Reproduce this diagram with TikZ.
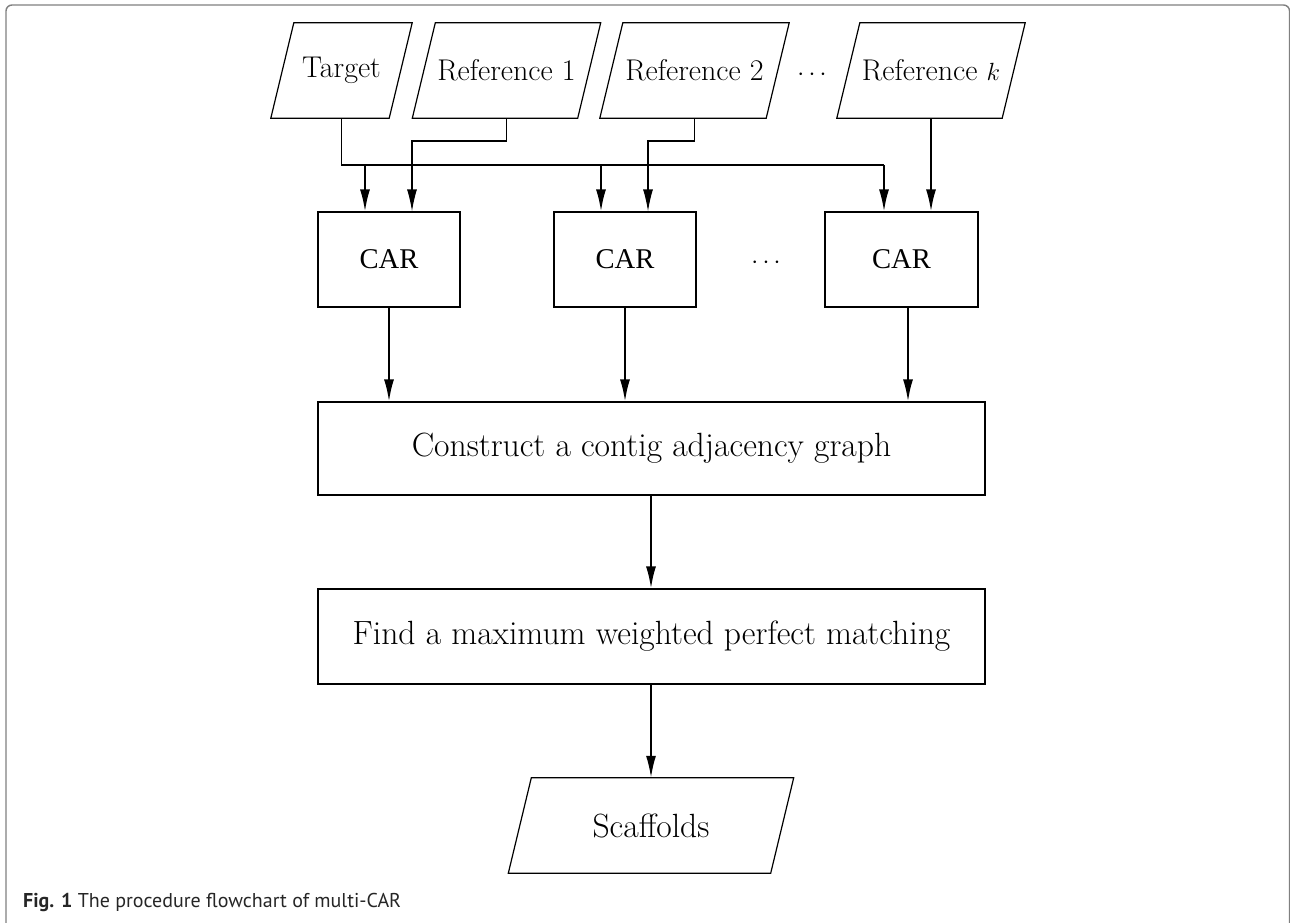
\documentclass[tikz,border=0pt]{standalone}
\usepackage{fontspec}
\newfontfamily\carfont{Liberation Serif}
\newfontfamily\capfont{PT Sans}
\usetikzlibrary{arrows.meta,calc}

\begin{document}
\begin{tikzpicture}[x=1pt,y=-1pt,
    every node/.style={font=\fontsize{30}{36}\selectfont, inner sep=0pt},
    datain/.style={minimum width=#1, minimum height=95},
    proc/.style={draw, line width=1.2, minimum height=95},
    big/.style={font=\fontsize{33.6}{40}\selectfont},
    flow/.style={line width=1.9, -{Latex[length=22pt,width=10pt]}},
    feed/.style={line width=1.2, -{Latex[length=22pt,width=10pt]}},
    bus/.style={line width=1.2}]
  \useasboundingbox (0,0) rectangle (1290,923);
  % frame
  \draw[black!50, line width=1.4, rounded corners=6] (6,940) -- (6,5) -- (1289.5,5) -- (1289.5,940);

  % inputs
  \node[datain=118] (tgt) at (341.5,70.5) {Target};
  \node[datain=165] (r1) at (506.5,70.5) {Reference 1};
  \node[datain=166] (r2) at (694.5,70.5) {Reference 2};
  \node[datain=165] (rk) at (931,70.5) {Reference $k$};
  \node (dtop) at (812,75) {$\cdots$};

  % CAR runs
  \node[proc, minimum width=142] (car1) at (389,259.5) {\carfont\fontsize{28.6}{34}\selectfont CAR};
  \node[proc, minimum width=142] (car2) at (625,259.5) {\carfont\fontsize{28.6}{34}\selectfont CAR};
  \node[proc, minimum width=153] (car3) at (901.5,259.5) {\carfont\fontsize{28.6}{34}\selectfont CAR};
  \node (dmid) at (766,263) {$\cdots$};

  \node[proc, big, minimum width=667, minimum height=93] (cag) at (651.5,448.5) {Construct a contig adjacency graph};
  \node[proc, big, minimum width=667] (mwm) at (651.5,636.5) {Find a maximum weighted perfect matching};
  \node[datain=262, big] (scaf) at (651,825.5) {Scaffolds};

  \foreach \n in {tgt,r1,r2,rk,scaf}
    \draw[line width=1.2] ([xshift=-11.5]\n.south west) -- ([xshift=-11.5]\n.south east)
      -- ([xshift=11.5]\n.north east) -- ([xshift=11.5]\n.north west) -- cycle;

  % target goes to every CAR
  \coordinate (b1) at (365,165);
  \coordinate (b2) at (601,165);
  \coordinate (b3) at (884,165);
  \draw[bus] (tgt.south) |- (b3);
  \draw[flow] (b1) -- (b1 |- car1.north);
  \draw[flow] (b2) -- (b2 |- car2.north);
  \draw[flow] (b3) -- (b3 |- car3.north);

  \coordinate (k1) at (412,141);
  \coordinate (k2) at (648,141);
  \draw[feed] (r1.south) |- (k1) -- (k1 |- car1.north);
  \draw[feed] (r2.south) |- (k2) -- (k2 |- car2.north);
  \draw[flow] (rk.south) -- (rk.south |- car3.north);

  \draw[flow] (car1.south) -- (car1.south |- cag.north);
  \draw[flow] (car2.south) -- (car2.south |- cag.north);
  \draw[flow] ([xshift=6.5]car3.south) -- ([xshift=6.5]car3.south |- cag.north);
  \draw[flow] (cag.south -| 651,0) -- (mwm.north -| 651,0);
  \draw[flow] (mwm.south -| 651,0) -- (scaf.north);

  \node[anchor=base west, font=\capfont\fontsize{20}{24}\selectfont, text=black!85] (cap) at (23,907)
    {\textbf{Fig. 1} The procedure flowchart of multi-CAR};
\end{tikzpicture}
\end{document}
